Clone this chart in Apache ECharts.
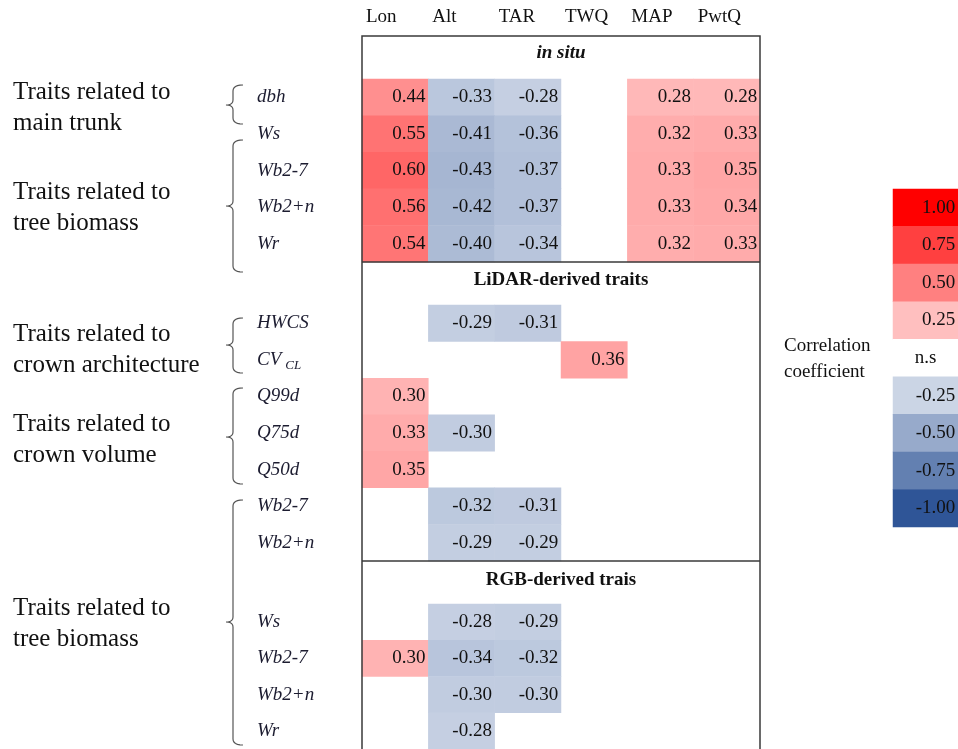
<!DOCTYPE html>
<html>
<head>
<meta charset="utf-8">
<script src="https://cdn.jsdelivr.net/npm/echarts@6/dist/echarts.min.js"></script>
<style>
html,body{margin:0;padding:0;background:#fff;}
#chart{width:958px;height:749px;}
</style>
</head>
<body>
<div id="chart"></div>
<script>
// ---------- DATA ----------
var columns = ['Lon', 'Alt', 'TAR', 'TWQ', 'MAP', 'PwtQ'];

var inSituRows = ['dbh', 'Ws', 'Wb2-7', 'Wb2+n', 'Wr'];
var inSituValues = [
  [0.44, -0.33, -0.28, null, 0.28, 0.28],
  [0.55, -0.41, -0.36, null, 0.32, 0.33],
  [0.60, -0.43, -0.37, null, 0.33, 0.35],
  [0.56, -0.42, -0.37, null, 0.33, 0.34],
  [0.54, -0.40, -0.34, null, 0.32, 0.33]
];

var lidarRows = ['HWCS', 'CV_CL', 'Q99d', 'Q75d', 'Q50d', 'Wb2-7', 'Wb2+n'];
var lidarValues = [
  [null, -0.29, -0.31, null, null, null],
  [null, null, null, 0.36, null, null],
  [0.30, null, null, null, null, null],
  [0.33, -0.30, null, null, null, null],
  [0.35, null, null, null, null, null],
  [null, -0.32, -0.31, null, null, null],
  [null, -0.29, -0.29, null, null, null]
];

var rgbRows = ['Ws', 'Wb2-7', 'Wb2+n', 'Wr'];
var rgbValues = [
  [null, -0.28, -0.29, null, null, null],
  [0.30, -0.34, -0.32, null, null, null],
  [null, -0.30, -0.30, null, null, null],
  [null, -0.28, null, null, null, null]
];

var sectionTitles = ['in situ', 'LiDAR-derived traits', 'RGB-derived trais'];

var legendTickLabels = ['1.00', '0.75', '0.50', '0.25', 'n.s', '-0.25', '-0.50', '-0.75', '-1.00'];
var legendValues = [1.00, 0.75, 0.50, 0.25, 0, -0.25, -0.50, -0.75, -1.00];

var groupLabels = [
  'Traits related to\nmain trunk',
  'Traits related to\ntree biomass',
  'Traits related to\ncrown architecture',
  'Traits related to\ncrown volume',
  'Traits related to\ntree biomass'
];

// ---------- BUILD ----------
var SERIF = '"Liberation Serif", "Times New Roman", serif';
var TXT = '#111';

function toItems(matrix) {
  var out = [];
  matrix.forEach(function (row, r) {
    row.forEach(function (v, c) {
      if (v !== null) out.push([c, r, v]);
    });
  });
  return out;
}

function rowLabelFormatter(v) {
  if (v === 'CV_CL') return '{i|CV}{s|CL}';
  return '{i|' + v + '}';
}
var rowRich = {
  i: { fontFamily: SERIF, fontStyle: 'italic', fontSize: 19, color: '#1c1c30' },
  s: { fontFamily: SERIF, fontStyle: 'italic', fontSize: 13, color: '#1c1c30', padding: [12, 0, 0, 4] }
};

var grids = [
  { left: 362, top: 79, width: 398, height: 183 },
  { left: 362, top: 305, width: 398, height: 256 },
  { left: 362, top: 604, width: 398, height: 146 },
  { left: 893, top: 189, width: 67, height: 338 }
];

var rowSets = [inSituRows, lidarRows, rgbRows];
var valSets = [inSituValues, lidarValues, rgbValues];

var xAxes = [], yAxes = [], series = [];
for (var g = 0; g < 3; g++) {
  xAxes.push({
    type: 'category', gridIndex: g, data: columns, show: false
  });
  yAxes.push({
    type: 'category', gridIndex: g, data: rowSets[g], inverse: true,
    axisLine: { show: false }, axisTick: { show: false }, splitLine: { show: false },
    axisLabel: {
      interval: 0, align: 'left', margin: 105,
      formatter: rowLabelFormatter, rich: rowRich
    }
  });
  series.push({
    type: 'heatmap', xAxisIndex: g, yAxisIndex: g,
    data: toItems(valSets[g]),
    label: {
      show: true, position: 'insideRight', distance: 3,
      fontFamily: SERIF, fontSize: 19, color: TXT,
      formatter: function (p) { return p.value[2].toFixed(2); }
    },
    itemStyle: { borderWidth: 0 },
    emphasis: { disabled: true }
  });
}
// header axis (column names, left-aligned at column start)
xAxes.push({
  type: 'category', gridIndex: 0, position: 'top', boundaryGap: false,
  data: columns.concat(['']),
  axisLine: { show: false }, axisTick: { show: false }, splitLine: { show: false },
  axisLabel: {
    interval: 0, align: 'left', verticalAlign: 'middle', margin: 62,
    padding: [0, 0, 0, 4],
    fontFamily: SERIF, fontSize: 19, color: TXT
  }
});
// legend grid
xAxes.push({ type: 'category', gridIndex: 3, data: ['r'], show: false });
yAxes.push({ type: 'category', gridIndex: 3, data: legendTickLabels, inverse: true, show: false });
series.push({
  type: 'heatmap', xAxisIndex: 4, yAxisIndex: 3,
  data: legendValues.map(function (v, i) {
    var isNs = legendTickLabels[i] === 'n.s';
    return {
      value: [0, i, v],
      label: isNs ? { position: 'inside', distance: 0, padding: [8, 0, 0, 0] } : undefined
    };
  }),
  label: {
    show: true, position: 'insideRight', distance: 3,
    fontFamily: SERIF, fontSize: 19, color: TXT,
    formatter: function (p) { return legendTickLabels[p.value[1]]; }
  },
  itemStyle: { borderWidth: 0 },
  emphasis: { disabled: true }
});

// decorations: box, separators, section titles, group labels, brackets
var graphics = [];
graphics.push({ type: 'rect', shape: { x: 362, y: 36, width: 398, height: 740 },
  style: { fill: null, stroke: '#3a3a3a', lineWidth: 1.5 }, z: 100 });
[262, 561].forEach(function (y) {
  graphics.push({ type: 'line', shape: { x1: 362, y1: y, x2: 760, y2: y },
    style: { stroke: '#3a3a3a', lineWidth: 1.5 }, z: 100 });
});
var titleY = [53, 280, 580];
sectionTitles.forEach(function (t, i) {
  graphics.push({ type: 'text', x: 561, y: titleY[i], z: 100,
    style: { text: t, fontFamily: SERIF, fontSize: 19, fontWeight: 'bold',
      fontStyle: i === 0 ? 'italic' : 'normal', fill: TXT,
      align: 'center', verticalAlign: 'middle' } });
});
var groupTop = [91, 191, 333, 423, 607];
groupLabels.forEach(function (t, i) {
  graphics.push({ type: 'text', x: 13, y: groupTop[i] - 14, z: 100,
    style: { text: t, fontFamily: SERIF, fontSize: 25, lineHeight: 31, fill: TXT,
      align: 'left', verticalAlign: 'top' } });
});

// curly bracket as polyline (quadratic hooks sampled)
function quad(p0, p1, p2, n) {
  var pts = [];
  for (var k = 1; k <= n; k++) {
    var t = k / n, u = 1 - t;
    pts.push([u * u * p0[0] + 2 * u * t * p1[0] + t * t * p2[0],
              u * u * p0[1] + 2 * u * t * p1[1] + t * t * p2[1]]);
  }
  return pts;
}
var brackets = [[85, 105, 124], [140, 206, 272], [318, 345, 373], [388, 437, 484], [500, 622, 745]];
brackets.forEach(function (b) {
  var t = b[0], m = b[1], bt = b[2], x = 233;
  var pts = [[x + 10, t]];
  pts = pts.concat(quad([x + 10, t], [x, t], [x, t + 6], 6));
  pts.push([x, m - 5]);
  pts = pts.concat(quad([x, m - 5], [x, m], [x - 7, m], 5));
  pts = pts.concat(quad([x - 7, m], [x, m], [x, m + 5], 5));
  pts.push([x, bt - 6]);
  pts = pts.concat(quad([x, bt - 6], [x, bt], [x + 10, bt], 6));
  graphics.push({ type: 'polyline', shape: { points: pts }, z: 100,
    style: { fill: null, stroke: '#555', lineWidth: 1.2 } });
});
graphics.push({ type: 'text', x: 784, y: 333, z: 100,
  style: { text: 'Correlation\ncoefficient', fontFamily: SERIF, fontSize: 19, lineHeight: 26,
    fill: TXT, align: 'left', verticalAlign: 'top' } });

var option = {
  backgroundColor: '#fff',
  animation: false,
  grid: grids,
  xAxis: xAxes,
  yAxis: yAxes,
  visualMap: {
    type: 'continuous', show: false, min: -1, max: 1, dimension: 2,
    seriesIndex: [0, 1, 2, 3],
    inRange: { color: ['#2f5597', '#ffffff', '#ff0000'] }
  },
  series: series,
  graphic: graphics
};

var chart = echarts.init(document.getElementById('chart'), null, { renderer: 'canvas' });
chart.setOption(option);
</script>
</body>
</html>
